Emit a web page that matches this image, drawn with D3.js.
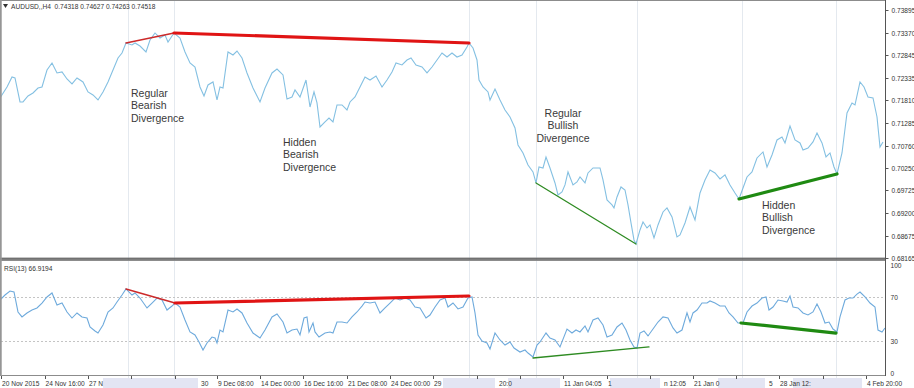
<!DOCTYPE html>
<html>
<head>
<meta charset="utf-8">
<script src="https://cdn.jsdelivr.net/npm/d3@7"></script>
<style>
  body { margin: 0; background: #fff; }
  svg { display: block; font-family: "Liberation Sans", Arial, sans-serif; }
</style>
</head>
<body>
<div id="chart"></div>
<script>
//=====================
// AUDUSD H4 with RSI(13) - divergence examples
//=====================

// price series: [bar, close]
let priceSeries = [
  [0, 0.71862], [7, 0.72116], [12, 0.72347], [15, 0.72324], [20, 0.71770], [23, 0.71770],
  [28, 0.71908], [33, 0.71978], [38, 0.72093], [42, 0.72116], [47, 0.72509], [52, 0.72671],
  [57, 0.72440], [62, 0.72463], [67, 0.72301], [72, 0.72186], [77, 0.72324], [83, 0.72232],
  [88, 0.72001], [93, 0.71932], [98, 0.71816], [103, 0.72001], [108, 0.72232], [113, 0.72509],
  [118, 0.72786], [122, 0.72902], [126, 0.73133], [132, 0.73087], [135, 0.73133], [140, 0.73063],
  [146, 0.72925], [150, 0.73202], [155, 0.73364], [160, 0.73248], [165, 0.73318], [168, 0.73156],
  [174, 0.73364], [180, 0.73248], [185, 0.72925], [190, 0.72671], [195, 0.72578], [200, 0.72116],
  [204, 0.71908], [208, 0.72163], [213, 0.72232], [217, 0.71816], [220, 0.72116], [223, 0.72093],
  [228, 0.72925], [233, 0.72856], [237, 0.72948], [242, 0.72786], [247, 0.72440], [253, 0.72093],
  [260, 0.71770], [265, 0.72093], [272, 0.72440], [277, 0.72532], [283, 0.72394], [287, 0.71839],
  [292, 0.71885], [295, 0.72047], [300, 0.71885], [306, 0.72278], [310, 0.71654], [314, 0.72001],
  [317, 0.71747], [320, 0.71192], [325, 0.71308], [329, 0.71400], [333, 0.71308], [337, 0.71701],
  [342, 0.71701], [347, 0.71585], [350, 0.71770], [355, 0.71885], [360, 0.72116], [365, 0.72347],
  [370, 0.72278], [376, 0.72370], [382, 0.72116], [387, 0.72278], [392, 0.72463], [396, 0.72671],
  [402, 0.72625], [407, 0.72740], [411, 0.72786], [416, 0.72625], [422, 0.72578], [427, 0.72440],
  [432, 0.72578], [437, 0.72740], [442, 0.72902], [447, 0.72809], [452, 0.72902], [457, 0.72809],
  [462, 0.72856], [467, 0.73040], [469, 0.73133], [473, 0.73017], [477, 0.72740], [479, 0.72278],
  [483, 0.72116], [488, 0.72001], [490, 0.71816], [495, 0.72070], [500, 0.71816], [505, 0.71585],
  [510, 0.71423], [515, 0.71169], [518, 0.70777], [523, 0.70592], [528, 0.70315], [533, 0.70153],
  [536, 0.69899], [539, 0.70268], [543, 0.70245], [546, 0.70499], [550, 0.70245], [555, 0.69899],
  [558, 0.69622], [562, 0.69691], [565, 0.69853], [568, 0.70153], [573, 0.69853], [577, 0.69922],
  [580, 0.70037], [585, 0.69899], [588, 0.70130], [593, 0.70245], [600, 0.70245], [603, 0.69968],
  [607, 0.69506], [612, 0.69391], [614, 0.69321], [617, 0.69575], [621, 0.69806], [625, 0.69737],
  [628, 0.69391], [631, 0.68975], [634, 0.68582], [636, 0.68490], [640, 0.68813], [643, 0.68998],
  [647, 0.68859], [650, 0.68929], [654, 0.68628], [658, 0.68929], [663, 0.69229], [667, 0.69321],
  [672, 0.69113], [677, 0.68651], [680, 0.68698], [685, 0.68975], [690, 0.69344], [695, 0.69044],
  [700, 0.69668], [705, 0.69968], [710, 0.70199], [715, 0.70130], [720, 0.69991], [725, 0.70084],
  [730, 0.69853], [735, 0.69668], [739, 0.69529], [743, 0.69783], [747, 0.70037], [752, 0.70153],
  [757, 0.70476], [763, 0.70615], [767, 0.70268], [772, 0.70546], [777, 0.70892], [782, 0.70961],
  [785, 0.70823], [790, 0.71215], [795, 0.70892], [800, 0.70823], [803, 0.70661], [808, 0.70707],
  [813, 0.70846], [817, 0.71054], [822, 0.70823], [826, 0.70499], [830, 0.70592], [834, 0.70268],
  [837, 0.70107], [842, 0.70592], [847, 0.71516], [852, 0.71747], [855, 0.71701], [860, 0.72232],
  [864, 0.72116], [868, 0.71885], [873, 0.71862], [877, 0.71423], [880, 0.70730], [883, 0.70846]
];

// RSI(13) series: [bar, value]
let rsiSeries = [
  [0, 67.6], [5, 72.2], [10, 75.9], [14, 75.0], [18, 56.5], [22, 51.9], [27, 55.6], [32, 58.3],
  [37, 60.2], [42, 64.8], [47, 70.4], [52, 74.1], [57, 63.0], [62, 64.8], [67, 56.5], [72, 50.9],
  [77, 55.6], [82, 51.9], [87, 50.9], [90, 42.6], [95, 38.9], [98, 37.0], [103, 44.4], [108, 56.5],
  [113, 60.2], [117, 65.7], [122, 72.2], [126, 77.8], [132, 72.2], [135, 74.1], [140, 69.4],
  [147, 60.2], [152, 64.8], [157, 69.4], [162, 67.6], [167, 58.3], [172, 62.0], [175, 64.8],
  [180, 61.1], [185, 49.1], [190, 38.0], [195, 35.2], [199, 28.7], [203, 21.3], [207, 27.8],
  [212, 33.3], [215, 32.4], [217, 27.8], [220, 39.8], [223, 38.0], [228, 58.3], [233, 56.5],
  [237, 59.3], [242, 55.6], [247, 46.3], [253, 37.0], [260, 32.4], [265, 39.8], [272, 51.9],
  [277, 54.6], [283, 47.2], [287, 37.0], [292, 39.8], [297, 40.7], [300, 35.2], [304, 50.9],
  [307, 51.9], [309, 38.0], [313, 46.3], [315, 38.0], [319, 33.3], [325, 37.0], [330, 38.0],
  [333, 37.0], [337, 47.2], [342, 47.2], [347, 46.3], [352, 51.9], [357, 56.5], [362, 62.0],
  [365, 65.7], [370, 64.8], [375, 65.7], [380, 55.6], [385, 60.2], [390, 64.8], [395, 69.4],
  [400, 67.6], [405, 69.4], [410, 67.6], [415, 61.1], [420, 60.2], [426, 50.9], [430, 53.7],
  [435, 61.1], [440, 67.6], [445, 69.4], [448, 61.1], [453, 64.8], [458, 59.3], [463, 61.1],
  [468, 69.4], [472, 70.4], [475, 55.6], [478, 35.2], [482, 29.6], [487, 27.8], [490, 22.2],
  [495, 37.0], [500, 30.6], [505, 25.9], [510, 28.7], [514, 23.1], [520, 19.4], [525, 21.3],
  [528, 18.5], [533, 14.8], [537, 25.9], [540, 28.7], [546, 37.0], [550, 32.4], [555, 30.6],
  [560, 24.1], [567, 40.7], [572, 37.0], [576, 39.8], [580, 38.0], [585, 43.5], [588, 38.0],
  [593, 49.1], [598, 50.9], [603, 44.4], [607, 33.3], [612, 35.2], [617, 42.6], [622, 46.3],
  [626, 39.8], [630, 30.6], [634, 24.1], [637, 23.1], [640, 37.0], [644, 38.9], [648, 34.3],
  [653, 40.7], [658, 47.2], [663, 51.9], [668, 50.9], [673, 41.7], [677, 37.0], [682, 39.8],
  [687, 55.6], [690, 47.2], [693, 55.6], [697, 58.3], [702, 64.8], [707, 64.8], [710, 66.7],
  [715, 64.8], [720, 62.0], [725, 62.0], [729, 55.6], [733, 51.9], [738, 46.3], [743, 46.3],
  [747, 56.5], [752, 62.0], [757, 64.8], [762, 69.4], [766, 70.4], [769, 58.3], [773, 61.1],
  [778, 67.6], [783, 66.7], [787, 65.7], [790, 71.3], [793, 61.1], [798, 60.2], [803, 55.6],
  [808, 53.7], [813, 56.5], [817, 63.9], [821, 56.5], [825, 46.3], [829, 47.2], [833, 40.7],
  [837, 38.0], [840, 51.9], [845, 67.6], [849, 69.4], [853, 69.4], [857, 73.1], [860, 75.0],
  [865, 70.4], [870, 64.8], [875, 61.1], [878, 39.8], [882, 38.0], [885, 41.7]
];

// divergence trend lines: [bar, value] pairs
let priceDivergences = [
  { kind: 'bearThin', from: [126, 0.73133], to: [174, 0.73364] },
  { kind: 'bearThick', from: [174, 0.73364], to: [469, 0.73133] },
  { kind: 'bullThin', from: [536, 0.69899], to: [636, 0.68490] },
  { kind: 'bullThick', from: [739, 0.69529], to: [837, 0.70107] }
];
let rsiDivergences = [
  { kind: 'bearThin', from: [126, 77.8], to: [175, 64.8] },
  { kind: 'bearThick', from: [175, 64.8], to: [469, 71.3] },
  { kind: 'bullThin', from: [533, 13.9], to: [649, 24.1] },
  { kind: 'bullThick', from: [741, 46.3], to: [836, 37.0] }
];
let guideBars = [128, 174, 469, 536, 637, 742, 836];

let priceTicks = [0.73895, 0.73370, 0.72845, 0.72335, 0.71810, 0.71285, 0.70760,
  0.70250, 0.69725, 0.69200, 0.68675, 0.68165];
let rsiTicks = [100, 70, 30, 0];
let rsiLevels = [70, 30];

let timeTickBars = [1, 44.5, 88, 131, 174.5, 217, 260, 303, 347, 390, 433, 477,
  520, 563, 607, 650, 693, 736, 779, 823, 866];
let timeLabels = [
  [1, '20 Nov 2015'], [44.5, '24 Nov 16:00'], [88, '27 N'], [200, '30'],
  [217, '9 Dec 08:00'], [260, '14 Dec 00:00'], [303, '16 Dec 16:00'], [347, '21 Dec 08:00'],
  [390, '24 Dec 00:00'], [433, '29'], [498, '20:0'], [563, '11 Jan 04:05'], [607, '1'],
  [663, 'n 12:05'], [693, '21 Jan 0'], [768, '5'], [779, '28 Jan 12:'], [866, '4 Feb 20:00']
];
// blurred spots over the time scale in the source
let maskedSpans = [[103, 198], [443, 495], [508, 560], [610, 660], [718, 765], [793, 862]];

let annotations = [
  { bar: 131, price: 0.71978, anchor: 'start', lines: ['Regular', 'Bearish', 'Divergence'] },
  { bar: 283, price: 0.70846, anchor: 'start', lines: ['Hidden', 'Bearish', 'Divergence'] },
  { bar: 563, price: 0.71516, anchor: 'middle', lines: ['Regular', 'Bullish', 'Divergence'] },
  { bar: 762, price: 0.69391, anchor: 'start', lines: ['Hidden', 'Bullish', 'Divergence'] }
];

let headerText = 'AUDUSD,,H4  0.74318 0.74627 0.74263 0.74518';
let rsiText = 'RSI(13) 66.9194';

//=====================
// layout
//=====================
let width = 914;
let height = 388;
let plotRight = 885;
let priceTop = 10, priceBottom = 258;
let rsiPaneTop = 261, rsiPaneBottom = 376;

let lineStyles = {
  bearThin: { color: '#cc2a2a', width: 1.4 },
  bearThick: { color: '#e01414', width: 3.2 },
  bullThin: { color: '#2e8b22', width: 1.3 },
  bullThick: { color: '#1f8a12', width: 3.2 }
};

let svg = d3.select('#chart').append('svg')
  .attr('width', width)
  .attr('height', height);

svg.append('rect').attr('width', width).attr('height', height).style('fill', '#fff');

let x = d3.scaleLinear().domain([0, 885]).range([0, plotRight]);
let yPrice = d3.scaleLinear().domain([0.68165, 0.73895]).range([priceBottom, priceTop]);
let yRsi = d3.scaleLinear().domain([0, 100]).range([373, 265]);

// vertical guides through both panes
svg.selectAll('.guide').data(guideBars).enter().append('line')
  .attr('x1', d => x(d) + 0.5).attr('x2', d => x(d) + 0.5)
  .attr('y1', 1).attr('y2', height)
  .style('stroke', '#e4e9ef').style('stroke-width', 1);

// rsi 70 / 30 levels
svg.selectAll('.level').data(rsiLevels).enter().append('line')
  .attr('x1', 1).attr('x2', plotRight)
  .attr('y1', d => Math.round(yRsi(d)) + 0.5).attr('y2', d => Math.round(yRsi(d)) + 0.5)
  .style('stroke', '#c4c4c4').style('stroke-dasharray', '2,2');

// price and rsi lines
let priceLine = d3.line().x(d => x(d[0])).y(d => yPrice(d[1]));
let rsiLine = d3.line().x(d => x(d[0])).y(d => yRsi(d[1]));

svg.append('path').datum(priceSeries)
  .attr('d', priceLine)
  .style('fill', 'none').style('stroke', '#84c0e2').style('stroke-width', 1.1);

svg.append('path').datum(rsiSeries)
  .attr('d', rsiLine)
  .style('fill', 'none').style('stroke', '#6eaadc').style('stroke-width', 1.1);

// divergence lines
let drawDivergences = (list, yScale) => {
  svg.selectAll(null).data(list).enter().append('line')
    .attr('x1', d => x(d.from[0])).attr('y1', d => yScale(d.from[1]))
    .attr('x2', d => x(d.to[0])).attr('y2', d => yScale(d.to[1]))
    .style('stroke', d => lineStyles[d.kind].color)
    .style('stroke-width', d => lineStyles[d.kind].width)
    .style('stroke-linecap', 'round');
};
drawDivergences(priceDivergences, yPrice);
drawDivergences(rsiDivergences, yRsi);

// annotations
annotations.forEach((a) => {
  let t = svg.append('text')
    .attr('x', x(a.bar))
    .attr('y', yPrice(a.price) + 4)
    .attr('text-anchor', a.anchor)
    .style('font-size', '10.5px')
    .style('fill', '#3a3a3a');
  a.lines.forEach((l, i) => {
    t.append('tspan').attr('x', x(a.bar)).attr('dy', i === 0 ? 0 : 12.5).text(l);
  });
});

// pane frames
svg.append('rect').attr('x', 0.5).attr('y', 0.5).attr('width', plotRight).attr('height', priceBottom - 0.5)
  .style('fill', 'none').style('stroke', '#8c8c8c');
svg.append('rect').attr('x', 0.5).attr('y', rsiPaneTop - 0.5).attr('width', plotRight).attr('height', rsiPaneBottom - rsiPaneTop)
  .style('fill', 'none').style('stroke', '#8c8c8c');
svg.append('line').attr('x1', 0).attr('x2', plotRight + 1).attr('y1', priceBottom + 1).attr('y2', priceBottom + 1)
  .style('stroke', '#555').style('stroke-width', 1.5);
svg.append('line').attr('x1', 1).attr('x2', 1).attr('y1', 0).attr('y2', rsiPaneBottom)
  .style('stroke', '#9a9a9a').style('stroke-width', 1.5);
svg.append('line').attr('x1', plotRight + 0.5).attr('x2', plotRight + 0.5).attr('y1', 0).attr('y2', rsiPaneBottom)
  .style('stroke', '#555');

// right price axis
let priceAxis = svg.append('g').attr('transform', 'translate(' + (plotRight + 0.5) + ',0)');
priceTicks.forEach((v) => {
  let yy = Math.round(yPrice(v)) + 0.5;
  priceAxis.append('line').attr('x1', 0).attr('x2', 3).attr('y1', yy).attr('y2', yy).style('stroke', '#555');
  priceAxis.append('text').attr('x', 6).attr('y', yy + 2.5)
    .style('font-size', '6.6px').style('fill', '#333').text(v.toFixed(5));
});

// right rsi axis
let rsiAxis = svg.append('g').attr('transform', 'translate(' + (plotRight + 0.5) + ',0)');
rsiTicks.forEach((v) => {
  let yy = Math.round(yRsi(v)) + 0.5;
  rsiAxis.append('text').attr('x', 5).attr('y', yy + 2.5)
    .style('font-size', '6.6px').style('fill', '#333').text(v);
});

// time scale
svg.selectAll('.mask').data(maskedSpans).enter().append('rect')
  .attr('x', d => x(d[0])).attr('width', d => x(d[1]) - x(d[0]))
  .attr('y', rsiPaneBottom + 2).attr('height', height - rsiPaneBottom - 2)
  .style('fill', '#e3e5f3');

svg.selectAll('.tick').data(timeTickBars).enter().append('line')
  .attr('x1', d => Math.round(x(d)) + 0.5).attr('x2', d => Math.round(x(d)) + 0.5)
  .attr('y1', rsiPaneBottom).attr('y2', rsiPaneBottom + 3)
  .style('stroke', '#555');

svg.selectAll('.tlabel').data(timeLabels).enter().append('text')
  .attr('x', d => x(d[0]) + 1)
  .attr('y', 386)
  .style('font-size', '6.6px').style('fill', '#333')
  .text(d => d[1]);

// headers
svg.append('path').attr('d', 'M3,4 L8,4 L5.5,8 Z').style('fill', '#333');
svg.append('text').attr('x', 11).attr('y', 8.5)
  .style('font-size', '6.6px').style('fill', '#333').style('white-space', 'pre')
  .text(headerText);
svg.append('text').attr('x', 4).attr('y', 270.5)
  .style('font-size', '6.6px').style('fill', '#333')
  .text(rsiText);
</script>
</body>
</html>
